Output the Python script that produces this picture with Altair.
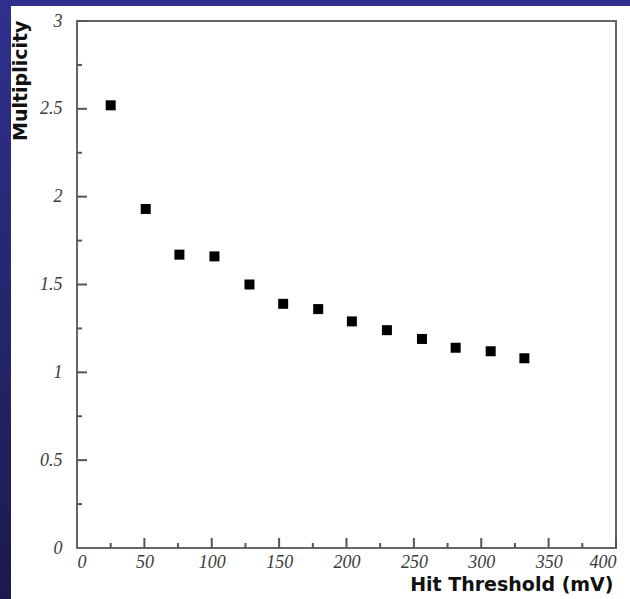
import altair as alt
import pandas as pd

# data
threshold = [25, 51, 76, 102, 128, 153, 179, 204, 230, 256, 281, 307, 332]
multiplicity = [2.52, 1.93, 1.67, 1.66, 1.50, 1.39, 1.36, 1.29, 1.24, 1.19, 1.14, 1.12, 1.08]

x_major = [50, 100, 150, 200, 250, 300, 350, 400]
x_minor = [25, 75, 125, 175, 225, 275, 325, 375]
y_major = [0.5, 1.0, 1.5, 2.0, 2.5, 3.0]
y_minor = [0.25, 0.75, 1.25, 1.75, 2.25, 2.75]
x_labels = [0, 50, 100, 150, 200, 250, 300, 350, 400]
y_labels = [0, 0.5, 1, 1.5, 2, 2.5, 3]

W, H = 539, 527
PL, PT, PR, PB = 77, 21, 14, 51

df = pd.DataFrame({"t": threshold, "m": multiplicity})

xs = alt.Scale(domain=[0, 400], nice=False, zero=False)
ys = alt.Scale(domain=[0, 3], nice=False, zero=False)

lab = dict(labelFont="Liberation Serif", labelFontStyle="italic", labelFontSize=18,
           labelColor="#3a3a3a", ticks=False, tickSize=0, domain=False, grid=False, zindex=2,
           titleFont="DejaVu Sans", titleFontWeight="bold", titleFontSize=19, titleColor="#111")

one = alt.Data(values=[{"a": 1}])

bg = alt.Chart(one).mark_rect(
    fill=alt.LinearGradient(
        gradient="linear",
        stops=[alt.GradientStop(color="#30318f", offset=0),
               alt.GradientStop(color="#1b1a4e", offset=1)],
        x1=0, x2=0, y1=0, y2=1),
).encode(x=alt.value(-PL), x2=alt.value(W + PR), y=alt.value(-PT), y2=alt.value(H + PB))

white = alt.Chart(one).mark_rect(fill="white").encode(
    x=alt.value(-PL + 11), x2=alt.value(W + PR), y=alt.value(-PT + 6), y2=alt.value(H + PB)
)

frame = alt.Chart(one).mark_rect(fill="white", fillOpacity=0, stroke="#666", strokeWidth=2).encode(
    x=alt.value(0), x2=alt.value(W), y=alt.value(0), y2=alt.value(H)
)

points = alt.Chart(df).mark_point(shape="square", filled=True, size=100, color="black", opacity=1).encode(
    x=alt.X("t:Q", scale=xs, axis=alt.Axis(values=x_labels, format="d", labelPadding=19,
                                           labelBaseline="alphabetic",
                                           title="Hit Threshold (mV)", titleAnchor="end",
                                           titleAlign="right", titleBaseline="alphabetic",
                                           titleX=W - 3, titleY=42, **lab)),
    y=alt.Y("m:Q", scale=ys, axis=alt.Axis(values=y_labels, format=".1~f", labelPadding=15,
                                           title="Multiplicity", titleAngle=-90,
                                           titleAlign="right", titleBaseline="top",
                                           titleX=-66, titleY=-1, **lab)),
)

tick_color = "#555"
xmaj = alt.Chart(pd.DataFrame({"v": x_major})).mark_rule(color=tick_color, strokeWidth=2).encode(
    x=alt.X("v:Q", scale=xs), y=alt.value(H), y2=alt.value(H - 10))
xmin = alt.Chart(pd.DataFrame({"v": x_minor})).mark_rule(color=tick_color, strokeWidth=2).encode(
    x=alt.X("v:Q", scale=xs), y=alt.value(H), y2=alt.value(H - 5))
ymaj = alt.Chart(pd.DataFrame({"v": y_major})).mark_rule(color=tick_color, strokeWidth=2).encode(
    y=alt.Y("v:Q", scale=ys), x=alt.value(0), x2=alt.value(10))
ymin = alt.Chart(pd.DataFrame({"v": y_minor})).mark_rule(color=tick_color, strokeWidth=2).encode(
    y=alt.Y("v:Q", scale=ys), x=alt.value(0), x2=alt.value(5))

chart = alt.layer(bg, white, frame, xmaj, xmin, ymaj, ymin, points).properties(
    width=W, height=H,
    autosize=alt.AutoSizeParams(type="none"),
    padding={"left": PL, "top": PT, "right": PR, "bottom": PB},
    background="#2a2a80",
).configure_view(stroke=None)

chart.save("out.html", embed_options={"renderer": "svg", "actions": False})
